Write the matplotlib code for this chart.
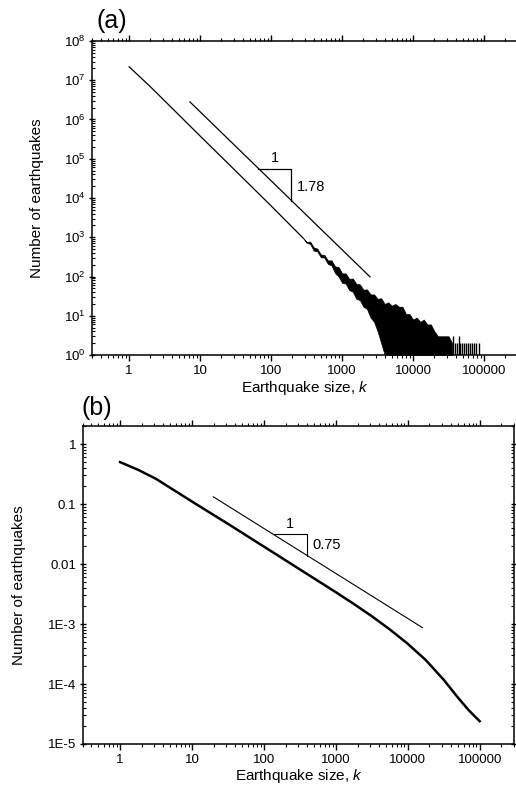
import matplotlib
matplotlib.use("Agg")
import matplotlib.pyplot as plt
from matplotlib.ticker import FixedLocator, FixedFormatter, LogLocator, NullFormatter
import numpy as np

plt.rcParams['font.family'] = ['Liberation Sans', 'DejaVu Sans']
plt.rcParams['mathtext.fontset'] = 'custom'
plt.rcParams['mathtext.rm'] = 'Liberation Sans'
plt.rcParams['mathtext.it'] = 'Liberation Sans:italic'

# ---------------- Panel (a) data ----------------
a_main_k = [1, 2, 10, 100, 282]
a_main_n = [2.2e7, 6.8e6, 3.8e5, 6.3e3, 955]

a_band_k = [282, 316, 355, 398, 447, 501, 562, 631, 708, 794, 891, 1000, 1122, 1259,
            1413, 1585, 1778, 1995, 2239, 2512, 2818, 3162, 3548, 3981, 4467, 5012,
            5623, 6310, 7079, 7943, 8913, 10000, 11220, 12589, 14125, 15849, 17783,
            19953, 22387, 25119, 28184, 31623, 35481]
a_band_hi = [955, 759, 776, 550, 513, 363, 355, 257, 257, 182, 174, 120, 120, 87,
             89, 65, 63, 46, 47, 35, 35, 27, 28, 20, 22, 18, 20, 17, 17, 11, 11, 8,
             9, 7, 8, 6, 6, 4, 3, 3, 3, 3, 2]
a_band_lo = [955, 724, 676, 457, 437, 309, 302, 209, 191, 123, 100, 69, 66, 45,
             41, 27, 25, 17, 15, 9, 7, 4, 2, 1, 1, 1, 1, 1, 1, 1, 1, 1,
             1, 1, 1, 1, 1, 1, 1, 1, 1, 1, 1]

a_tail_k = [37000, 39000, 41500, 44000, 46000, 49000, 52000, 56000,
            60000, 64000, 68000, 73000, 78000, 86000]
a_tail_n = [3, 2, 2, 3, 2, 2, 2, 2, 2, 2, 2, 2, 2, 2]

a_ref_k = [7.2, 2470]
a_ref_n = [2.8e6, 98]
a_slope = 1.78

# ---------------- Panel (b) data ----------------
b_k = [1, 1.78, 3.16, 5.62, 10, 17.8, 31.6, 56.2, 100, 178, 316, 562, 1000, 1778,
       3162, 5623, 10000, 17783, 31623, 50119, 70795, 89125, 100000]
b_n = [0.50, 0.372, 0.263, 0.170, 0.110, 0.0716, 0.0468, 0.0302, 0.0195, 0.0126,
       0.00813, 0.00525, 0.00339, 0.00216, 0.00135, 8.13e-4, 4.68e-4, 2.51e-4,
       1.175e-4, 5.89e-5, 3.63e-5, 2.75e-5, 2.40e-5]

b_ref_k = [19.8, 16000]
b_ref_n = [0.132, 8.7e-4]
b_slope = 0.75

x_ticks = [1, 10, 100, 1000, 10000, 100000]
x_ticklabels = ['1', '10', '100', '1000', '10000', '100000']
b_y_ticks = [1e-5, 1e-4, 1e-3, 1e-2, 1e-1, 1]
b_y_ticklabels = ['1E-5', '1E-4', '1E-3', '0.01', '0.1', '1']

W, H = 516, 797
fig = plt.figure(figsize=(W / 100, H / 100), dpi=100)


def px_axes(l, t, r, b):
    return fig.add_axes([l / W, 1 - b / H, (r - l) / W, (b - t) / H])


axA = px_axes(92, 41, 518, 355)
axB = px_axes(82.5, 426, 514, 744)

for ax in (axA, axB):
    ax.set_xscale('log')
    ax.set_yscale('log')
    ax.set_xlim(0.3, 3e5)
    ax.xaxis.set_major_locator(FixedLocator(x_ticks))
    ax.xaxis.set_major_formatter(FixedFormatter(x_ticklabels))
    ax.xaxis.set_minor_locator(LogLocator(base=10, subs=np.arange(2, 10), numticks=20))
    ax.xaxis.set_minor_formatter(NullFormatter())
    ax.yaxis.set_minor_locator(LogLocator(base=10, subs=np.arange(2, 10), numticks=20))
    ax.yaxis.set_minor_formatter(NullFormatter())
    for s in ax.spines.values():
        s.set_linewidth(1.1)
    ax.tick_params(axis='x', which='major', direction='out', length=4.5, width=1.0,
                   labelsize=9.5, pad=3, top=True)
    ax.tick_params(axis='x', which='minor', direction='out', length=2.5, width=0.8, top=True)
    ax.tick_params(axis='y', which='major', direction='inout', length=5, width=1.0,
                   labelsize=9.5, pad=2)
    ax.tick_params(axis='y', which='minor', direction='in', length=2.5, width=0.8)

axA.tick_params(axis='y', which='both', right=False)
axB.tick_params(axis='y', which='both', right=True)

# Panel (a)
axA.set_ylim(1, 1e8)
axA.yaxis.set_major_locator(LogLocator(base=10, numticks=20))
axA.plot(a_main_k, a_main_n, color='black', lw=0.9)
axA.fill_between(a_band_k, a_band_lo, a_band_hi, color='black', lw=0.5, edgecolor='black')
axA.vlines(a_tail_k, 1, a_tail_n, color='black', lw=1.0)
axA.plot(a_ref_k, a_ref_n, color='black', lw=0.9)
# slope triangle (a)
k1, k2 = 66, 190
y1 = a_ref_n[0] * (k1 / a_ref_k[0]) ** (-a_slope)
y2 = y1 * (k2 / k1) ** (-a_slope)
axA.plot([k1, k2, k2], [y1, y1, y2], color='black', lw=0.9)
axA.annotate('1', xy=(np.sqrt(k1 * k2), y1), xytext=(0, 3), textcoords='offset points',
             ha='center', va='bottom', fontsize=10.5)
axA.annotate('1.78', xy=(k2, np.sqrt(y1 * y2)), xytext=(4, -1), textcoords='offset points',
             ha='left', va='center', fontsize=10.5)

# Panel (b)
axB.set_ylim(1e-5, 2)
axB.yaxis.set_major_locator(FixedLocator(b_y_ticks))
axB.yaxis.set_major_formatter(FixedFormatter(b_y_ticklabels))
axB.plot(b_k, b_n, color='black', lw=1.8, solid_joinstyle='round')
axB.plot(b_ref_k, b_ref_n, color='black', lw=0.8)
k1, k2 = 132, 400
y1 = b_ref_n[0] * (k1 / b_ref_k[0]) ** (-b_slope)
y2 = y1 * (k2 / k1) ** (-b_slope)
axB.plot([k1, k2, k2], [y1, y1, y2], color='black', lw=0.8)
axB.annotate('1', xy=(np.sqrt(k1 * k2), y1), xytext=(0, 2), textcoords='offset points',
             ha='center', va='bottom', fontsize=10.5)
axB.annotate('0.75', xy=(k2, np.sqrt(y1 * y2)), xytext=(4, 0), textcoords='offset points',
             ha='left', va='center', fontsize=10.5)


def ftext(x, y, s, **kw):
    fig.text(x / W, 1 - y / H, s, **kw)


ftext(112, 21, '(a)', fontsize=18, ha='center', va='center')
ftext(97, 408, '(b)', fontsize=18, ha='center', va='center')
ftext(37, 198, 'Number of earthquakes', fontsize=11, rotation=90, ha='center', va='center')
ftext(19, 585, 'Number of earthquakes', fontsize=11, rotation=90, ha='center', va='center')
ftext(305, 388, 'Earthquake size, $k$', fontsize=11, ha='center', va='center')
ftext(299, 776, 'Earthquake size, $k$', fontsize=11, ha='center', va='center')

fig.savefig('out.png', dpi=100)
